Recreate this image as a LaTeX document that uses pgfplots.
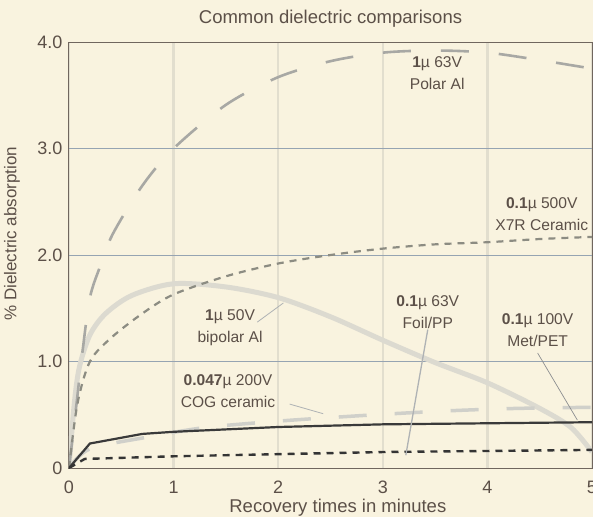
\documentclass[border=0pt]{standalone}
\usepackage{fontspec}
\setmainfont{Liberation Sans}
\usepackage{pgfplots}
\pgfplotsset{compat=1.18}
\definecolor{bg}{RGB}{249,243,223}
\definecolor{txt}{RGB}{92,80,72}
\definecolor{axc}{RGB}{112,102,94}
\definecolor{vgrid}{RGB}{226,222,206}
\definecolor{hgrid}{RGB}{150,164,178}
\definecolor{polar}{RGB}{168,168,164}
\definecolor{xsr}{RGB}{140,140,130}
\definecolor{bipol}{RGB}{220,218,208}
\definecolor{cog}{RGB}{208,208,202}
\definecolor{dk}{RGB}{58,58,58}
\definecolor{lead}{RGB}{175,178,180}
\begin{document}
\begin{tikzpicture}
\fill[bg] (-69pt,-49pt) rectangle (524pt,468pt);
\begin{axis}[
 scale only axis, width=523pt, height=426pt,
 xmin=0, xmax=5, ymin=0, ymax=4,
 xtick={0,1,2,3,4,5}, ytick={0,1,2,3,4},
 yticklabels={0,1.0,2.0,3.0,4.0},
 axis line style={axc, line width=1pt},
 tick style={draw=none},
 grid=major,
 x grid style={vgrid, line width=2.5pt},
 y grid style={hgrid, line width=0.7pt},
 /pgf/number format/assume math mode=true,
 ticklabel style={font=\fontsize{18}{21}\selectfont, text=txt},
 xticklabel style={anchor=base, yshift=-25pt},
 yticklabel style={xshift=-3pt},
 xlabel={Recovery times in minutes},
 ylabel={\% Dielectric absorption},
 xlabel style={font=\fontsize{18.5}{22}\selectfont, text=txt, at={(0.514,0)}, anchor=base, yshift=-44pt},
 ylabel style={font=\fontsize{17}{20}\selectfont, text=txt, at={(0,0.55)}, anchor=center, yshift=57pt},
 title={Common dielectric comparisons},
 title style={font=\fontsize{18.5}{22}\selectfont, text=txt, at={(0.5,1)}, anchor=base, yshift=13pt},
 clip=true,
]
% bipolar Al
\addplot[bipol, line width=5pt, smooth] coordinates {
(0,0) (0.05,0.6) (0.1,0.95) (0.2,1.25) (0.35,1.45) (0.6,1.62) (1.0,1.73) (1.5,1.7) (2,1.6) (2.5,1.42) (3,1.2) (3.5,0.99) (4,0.8) (4.5,0.56) (4.8,0.38) (5,0.15)};
% COG ceramic
\addplot[cog, line width=3.5pt, dash pattern=on 28pt off 28pt, smooth] coordinates {
(0,0) (0.2,0.18) (0.75,0.29) (1.3,0.38) (2,0.44) (2.6,0.48) (3.1,0.51) (3.7,0.54) (4.3,0.56) (5,0.57)};
% Polar Al
\addplot[polar, line width=2.6pt, dash pattern=on 28pt off 30pt, smooth] coordinates {
(0,0) (0.06,0.5) (0.13,1.1) (0.2,1.6) (0.3,1.9) (0.42,2.2) (0.7,2.65) (1.0,3.0) (1.5,3.41) (2.0,3.67) (2.5,3.82) (3.0,3.9) (3.5,3.92) (4.0,3.9) (4.5,3.83) (5,3.75)};
% X7R ceramic
\addplot[xsr, line width=2.2pt, dash pattern=on 7pt off 6pt, smooth] coordinates {
(0,0) (0.08,0.6) (0.2,1.0) (0.4,1.22) (0.7,1.45) (1,1.63) (1.5,1.8) (2,1.92) (2.5,2.0) (3,2.06) (3.5,2.1) (4,2.12) (4.5,2.15) (5,2.17)};
% Met/PET solid
\addplot[dk, line width=2.2pt] coordinates {
(0,0) (0.2,0.23) (0.7,0.32) (1,0.34) (2,0.385) (3,0.41) (4,0.42) (5,0.43)};
% Foil/PP dashed
\addplot[dk!90!black, line width=2.4pt, dash pattern=on 7pt off 6pt] coordinates {
(0,0) (0.15,0.085) (1,0.11) (2,0.13) (3,0.15) (4,0.16) (5,0.17)};
% leader lines
\addplot[lead, line width=0.8pt, forget plot] coordinates {(1.8,1.37) (2.05,1.55)};
\addplot[lead, line width=0.8pt, forget plot] coordinates {(2.11,0.60) (2.43,0.51)};
\addplot[lead, line width=1.3pt, forget plot] coordinates {(3.43,1.30) (3.22,0.12)};
\addplot[lead!80!black, line width=0.7pt, forget plot] coordinates {(4.48,1.08) (4.86,0.45)};
% labels
\begin{scope}[every node/.style={font=\fontsize{15.6}{22}\selectfont, text=txt, align=center}]
\node at (axis cs:3.52,3.71) {\textbf{1}µ 63V\\Polar Al};
\node at (axis cs:4.52,2.38) {\textbf{0.1}µ 500V\\X7R Ceramic};
\node at (axis cs:1.54,1.32) {\textbf{1}µ 50V\\bipolar Al};
\node at (axis cs:1.52,0.72) {\textbf{0.047}µ 200V\\COG ceramic};
\node at (axis cs:3.43,1.46) {\textbf{0.1}µ 63V\\Foil/PP};
\node at (axis cs:4.48,1.29) {\textbf{0.1}µ 100V\\Met/PET};
\end{scope}
\end{axis}
\pgfresetboundingbox
\path (-69pt,-49pt) rectangle (524pt,468pt);
\end{tikzpicture}
\end{document}
